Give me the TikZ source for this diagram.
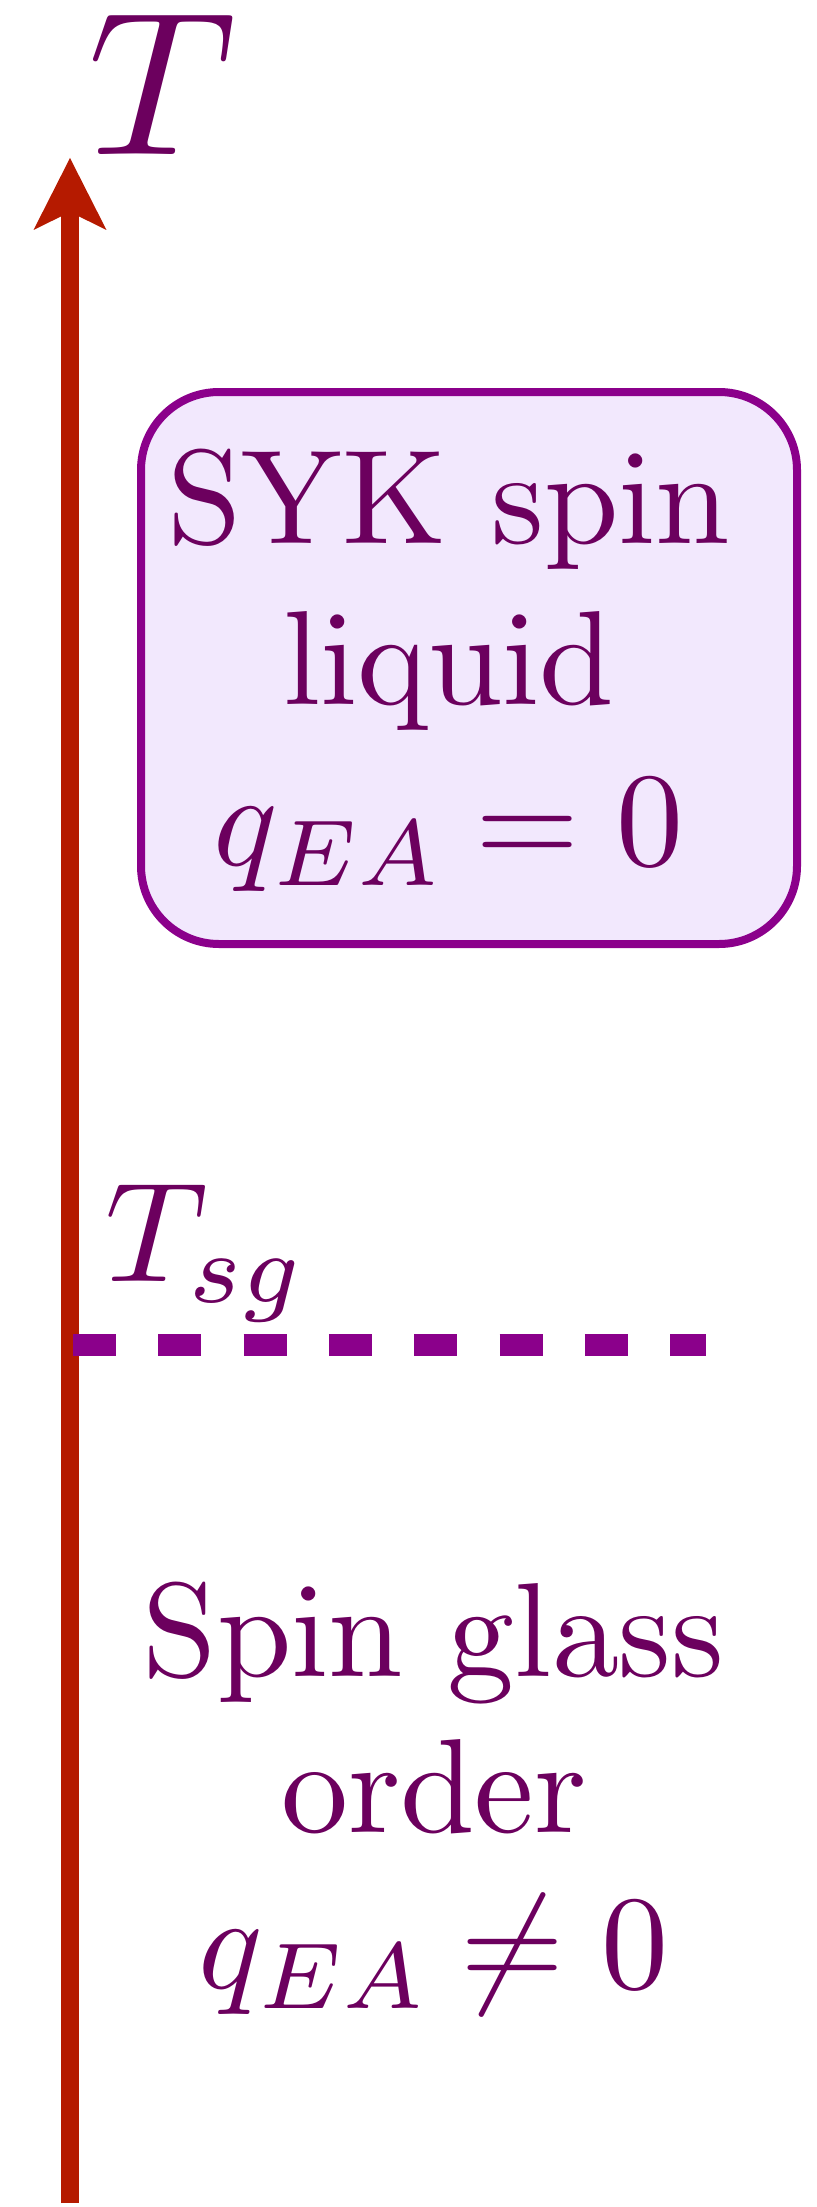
\documentclass[tikz,border=0pt]{standalone}
\usetikzlibrary{arrows.meta}
\DeclareFontShape{OT1}{cmr}{m}{n}{<-110> cmr7 <110-> cmr10}{}
\DeclareFontShape{OML}{cmm}{m}{it}{<-110> cmmi7 <110-> cmmi10}{}
\DeclareFontShape{OMS}{cmsy}{m}{n}{<-110> cmsy7 <110-> cmsy10}{}
\newcommand\cmtext{\fontencoding{OT1}\fontfamily{cmr}\selectfont}
\definecolor{txt}{RGB}{108,0,94}
\definecolor{bord}{RGB}{139,0,139}
\definecolor{boxfill}{RGB}{242,232,253}
\definecolor{axisred}{RGB}{181,26,0}
\begin{document}
\begin{tikzpicture}[x=1pt,y=-1pt,
  lbl/.style={text=txt, inner sep=0pt, align=center},
  phasebox/.style={draw=bord, fill=boxfill, line width=8pt, rounded corners=78pt,
    minimum width=656pt, minimum height=552pt, inner sep=0pt},
  axisline/.style={draw=axisred, line width=18.5pt,
    -{Stealth[length=72pt,width=73pt,inset=18pt,line width=0pt]}},
  dashline/.style={draw=bord, line width=22pt, dash pattern=on 43pt off 42.3pt}]
\useasboundingbox (0,0) rectangle (816,2207);
% axis
\coordinate (axbot) at (70,2203);
\coordinate (axtop) at (70,158);
\draw[axisline] (axbot) -- (axtop);
\node[lbl, anchor=base west, font=\fontsize{205}{246}\selectfont] (tlabel) at (88,155) {$T$};
% SYK box
\node[phasebox] (syk) at (469,668) {};
\node[lbl, anchor=base, font=\fontsize{134}{161}\cmtext] (syktext) at (449,865)
  {SYK spin\\liquid\\$q_{EA}=0$};
% transition
\node[lbl, anchor=base west, font=\fontsize{142}{170}\selectfont] (tsg) at (105,1281) {$T_{sg}$};
\coordinate (dstart) at (73,1345);
\coordinate (dend) at (706,1345);
\draw[dashline] (dstart) -- (dend);
% spin glass
\node[lbl, anchor=base, font=\fontsize{134}{156}\cmtext] (sgtext) at (434,1988)
  {Spin glass\\order\\$q_{EA}\neq 0$};
\end{tikzpicture}
\end{document}
